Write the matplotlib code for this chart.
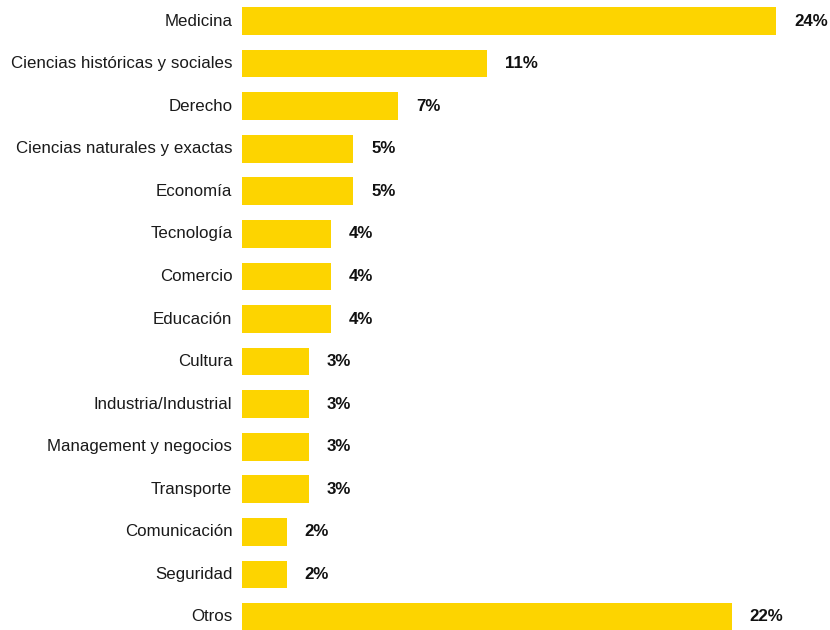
import matplotlib
matplotlib.use("Agg")
import matplotlib.pyplot as plt

categories = ["Medicina", "Ciencias históricas y sociales", "Derecho",
              "Ciencias naturales y exactas", "Economía", "Tecnología",
              "Comercio", "Educación", "Cultura", "Industria/Industrial",
              "Management y negocios", "Transporte", "Comunicación",
              "Seguridad", "Otros"]
values = [24, 11, 7, 5, 5, 4, 4, 4, 3, 3, 3, 3, 2, 2, 22]
value_labels = ["24%", "11%", "7%", "5%", "5%", "4%", "4%", "4%", "3%",
                "3%", "3%", "3%", "2%", "2%", "22%"]

fam = "Liberation Sans"

W, H = 830, 630
fig = plt.figure(figsize=(W / 100, H / 100), dpi=100)
left, right = 242 / W, 776 / W
ax = fig.add_axes([left, 0, right - left, 1])
step = 42.57
ax.set_ylim(14 + 13 / step, -21 / step)
ax.set_xlim(0, 24)

# fit the longest category label to the reference width (~222 px)
renderer = fig.canvas.get_renderer()
probe = fig.text(0, 0, categories[1], fontsize=14, family=fam)
wpx = probe.get_window_extent(renderer).width
probe.remove()
fs = min(14, 14 * 222 / wpx)

ypos = list(range(len(categories)))
ax.barh(ypos, values, height=0.65, color="#FDD400", edgecolor="none")
for y, v, lab, cat in zip(ypos, values, value_labels, categories):
    ax.annotate(lab, (v, y), xytext=(13, 0), textcoords="offset points",
                ha="left", va="center", fontsize=fs, fontweight="bold",
                family=fam, color="#111111", annotation_clip=False)
    ax.annotate(cat, (0, y), xytext=(-7, 0), textcoords="offset points",
                ha="right", va="center", fontsize=fs, family=fam,
                color="#1a1a1a", annotation_clip=False)
ax.axis("off")
fig.savefig("out.png", dpi=100)
